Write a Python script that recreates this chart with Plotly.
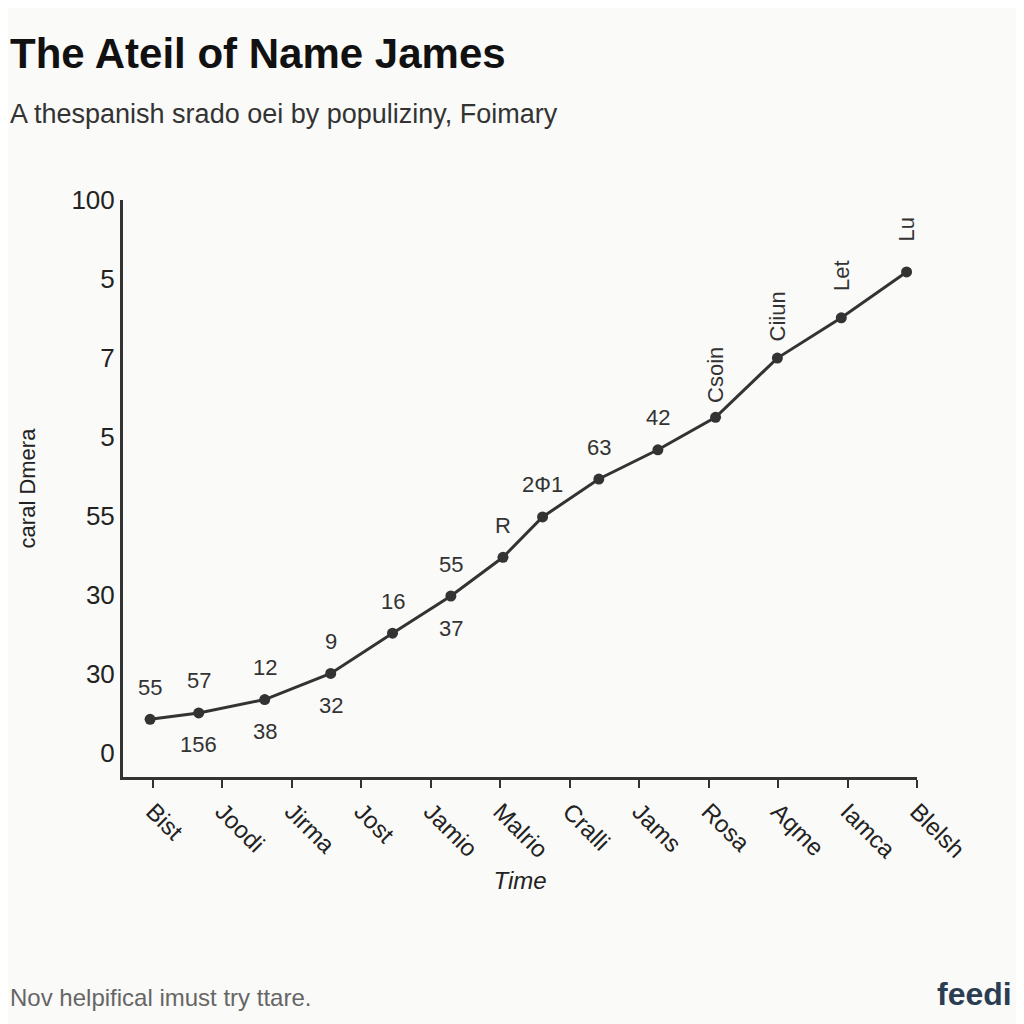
import plotly.graph_objects as go

# values (x in category-slot units, y in tick units)
x_vals = [-0.04, 0.66, 1.61, 2.56, 3.45, 4.29, 5.04, 5.61, 6.42, 7.27, 8.10, 8.99, 9.91, 10.85]
y_vals = [0.43, 0.51, 0.68, 1.01, 1.52, 1.99, 2.48, 2.99, 3.47, 3.84, 4.25, 5.00, 5.51, 6.09]
above = ["55", "57", "12", "9", "16", "55", "R", "2\u04241", "63", "42", "Csoin", "Ciiun", "Let", "Lu"]
below = {1: "156", 2: "38", 3: "32", 5: "37"}

x_labels = ["Bist", "Joodi", "Jirma", "Jost", "Jamio", "Malrio", "Cralli", "Jams", "Rosa", "Aqme", "Iamca", "Blelsh"]
y_ticktext = ["0", "30", "30", "55", "5", "7", "5", "100"]

fig = go.Figure()
fig.add_trace(go.Scatter(
    x=x_vals, y=y_vals, mode="lines+markers",
    line=dict(color="#333333", width=3),
    marker=dict(color="#333333", size=11),
    showlegend=False))

font_lbl = dict(family="Liberation Sans, Arial", size=22, color="#333333")
for i, t in enumerate(above):
    rot = -90 if i >= 10 else 0
    fig.add_annotation(x=x_vals[i], y=y_vals[i], text=t, showarrow=False,
                       textangle=rot, yshift=42 if rot else 32, font=font_lbl)
for i, t in below.items():
    fig.add_annotation(x=x_vals[i], y=y_vals[i], text=t, showarrow=False,
                       yshift=-32, font=font_lbl)

fig.update_xaxes(range=[-0.43, 11.0], tickvals=list(range(12)), ticktext=x_labels,
                 tickangle=45, ticks="outside", ticklen=8, tickwidth=2, tickcolor="#333",
                 showline=True, linewidth=3, linecolor="#333", showgrid=False, zeroline=False,
                 tickfont=dict(family="Liberation Sans, Arial", size=24, color="#222"),
                 title=dict(text="<i>Time</i>", font=dict(size=24, color="#222"), standoff=10))
fig.update_yaxes(range=[-0.3, 7.0], tickvals=list(range(8)), ticktext=y_ticktext,
                 showline=True, linewidth=3, linecolor="#333", showgrid=False, zeroline=False,
                 ticks="", tickfont=dict(family="Liberation Sans, Arial", size=26, color="#222"),
                 title=dict(text="caral Dmera", font=dict(size=22, color="#222"), standoff=30))

fig.update_layout(
    width=1024, height=1024,
    margin=dict(l=115, r=115, t=192, b=255),
    paper_bgcolor="#fafaf8", plot_bgcolor="#fafaf8",
    font=dict(family="Liberation Sans, Arial"))

def paper_text(text, px, py, size, color="#111", xanchor="left"):
    fig.add_annotation(text=text, xref="paper", yref="paper",
                       x=(px - 115) / (1024 - 115 - 115), y=(769 - py) / (769 - 192),
                       xanchor=xanchor, yanchor="middle", showarrow=False,
                       font=dict(size=size, color=color, family="Liberation Sans, Arial"))

paper_text("<b>The Ateil of Name James</b>", 0, 46, 42, "#111")
paper_text("A thespanish srado oei by populiziny, Foimary", 0, 106, 27, "#333")
paper_text("Nov helpifical imust try ttare.", 0, 990, 24, "#666")
paper_text("<b>feedi</b>", 1006, 986, 32, "#2a3d52", xanchor="right")

fig.write_html("out.html")
